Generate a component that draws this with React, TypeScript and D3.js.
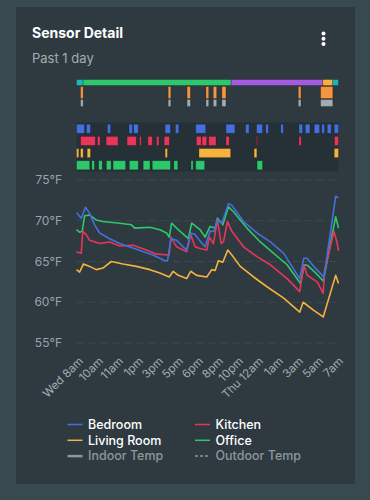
import React from 'react'
import * as d3 from 'd3'

// room temperatures, [hours since start, °F]
const bedroom: [number, number][] = [
  [0, 71.0], [0.43, 70.3], [0.83, 71.65], [1.2, 70.9], [1.66, 69.5], [2.12, 68.5], [3.04, 67.8],
  [3.96, 67.2], [5.49, 66.5], [7.0, 65.8], [8.1, 65.1], [8.34, 65.1], [8.65, 67.8], [9.17, 67.6],
  [10.09, 66.4], [10.46, 68.5], [10.86, 68.3], [11.32, 67.5], [11.78, 66.8], [12.24, 68.7],
  [12.6, 68.7], [12.91, 70.1], [13.31, 69.7], [13.92, 72.1], [14.23, 71.9], [15.3, 69.9],
  [16.53, 68.5], [17.76, 67.4], [18.98, 66.0], [20.45, 62.9], [20.82, 65.4], [21.13, 65.4],
  [21.74, 64.4], [22.51, 63.3], [22.66, 63.0], [23.74, 73.0], [24, 72.8],
]
const kitchen: [number, number][] = [
  [0, 66.2], [0.43, 66.0], [0.58, 68.7], [0.89, 68.3], [1.2, 67.6], [2.12, 67.2], [3.04, 67.4],
  [3.96, 66.9], [5.18, 67.0], [6.41, 66.4], [7.33, 65.9], [8.49, 65.8], [8.65, 68.0], [9.17, 66.8],
  [10.09, 66.2], [10.46, 68.3], [10.86, 66.8], [11.32, 66.6], [11.93, 66.4], [12.17, 68.0],
  [12.54, 67.2], [12.91, 70.1], [13.25, 67.2], [13.46, 67.4], [13.83, 69.9], [14.23, 68.7],
  [15.3, 66.8], [16.53, 65.6], [17.76, 64.6], [19.29, 62.9], [20.45, 61.3], [20.82, 64.6],
  [21.13, 63.3], [22.05, 62.5], [22.6, 61.1], [22.72, 63.8], [23.58, 68.7], [23.89, 67.2], [24, 66.3],
]
const livingRoom: [number, number][] = [
  [0, 64.0], [0.28, 63.7], [0.64, 64.7], [1.2, 64.4], [1.81, 64.0], [2.42, 64.2], [3.19, 65.0],
  [4.26, 64.7], [5.49, 64.4], [6.72, 64.0], [7.64, 63.6], [8.49, 63.1], [8.86, 63.8], [9.32, 63.3],
  [10.09, 62.9], [10.46, 63.8], [11.01, 63.3], [11.93, 63.1], [12.39, 64.0], [12.7, 63.9],
  [13.0, 65.1], [13.4, 64.9], [13.86, 66.4], [14.23, 65.8], [15.0, 64.4], [16.22, 63.1],
  [17.45, 61.9], [18.98, 60.5], [20.45, 58.8], [20.76, 60.0], [21.74, 59.0], [22.6, 58.2],
  [23.74, 63.3], [24, 62.3],
]
const office: [number, number][] = [
  [0, 68.9], [0.28, 68.6], [0.52, 68.7], [0.74, 70.6], [1.2, 70.7], [1.81, 70.1], [2.42, 69.9],
  [3.96, 69.7], [5.03, 69.5], [5.34, 69.1], [6.72, 69.2], [7.64, 68.9], [8.25, 68.5], [8.49, 68.0],
  [8.71, 69.7], [9.17, 69.1], [10.24, 67.8], [10.55, 69.7], [11.32, 68.9], [11.78, 68.0],
  [12.24, 69.3], [12.7, 69.1], [12.91, 70.3], [13.4, 69.5], [13.92, 71.7], [14.38, 71.1],
  [15.61, 69.1], [16.84, 67.4], [18.06, 66.0], [19.29, 64.6], [20.52, 62.3], [20.88, 64.6],
  [21.19, 64.5], [21.9, 63.6], [22.6, 62.6], [23.74, 70.5], [24, 69.1],
]

const tickLabels = ['Wed 8am', '10am', '11am', '1pm', '3pm', '5pm', '6pm', '8pm', '10pm', 'Thu 12am', '1am', '3am', '5am', '7am']
const yTicks = [55, 60, 65, 70, 75]

// thermostat mode timeline [start, end, state]
const modeSegments: [number, number, string][] = [
  [0, 0.6, 'fan'], [0.6, 14.17, 'home'], [14.17, 22.56, 'sleep'], [22.56, 23.48, 'away'], [23.48, 24, 'fan'],
]
const heatingOn: [number, number][] = [
  [0.37, 0.61], [8.4, 8.64], [10.13, 10.43], [11.86, 12.11], [12.53, 12.84], [13.32, 13.69], [20.32, 20.56], [22.36, 23.48],
]
const fanOn: [number, number][] = [
  [0.37, 0.61], [8.4, 8.64], [10.13, 10.43], [11.86, 12.11], [12.53, 12.84], [13.32, 13.69], [20.32, 20.56], [22.36, 23.48],
]

// occupancy per room
const bedroomMotion: [number, number][] = [
  [0, 0.73], [0.91, 1.28], [2.83, 3.13], [4.81, 5.11], [5.23, 5.66], [8.12, 8.6], [9.06, 9.37], [10.92, 11.84],
  [13.69, 14.51], [15.49, 15.81], [16.49, 17.04], [17.34, 17.58], [18.71, 18.95], [20.38, 20.71], [20.96, 21.38],
  [21.78, 22.27], [22.47, 22.72], [22.97, 23.33], [23.61, 24],
]
const kitchenMotion: [number, number][] = [
  [0.37, 1.73], [1.92, 2.16], [2.71, 3.81], [4.63, 5.48], [5.78, 5.93], [6.54, 6.94], [7.33, 7.55], [8.03, 8.51],
  [10.98, 11.43], [11.5, 11.93], [12.11, 12.78], [13.69, 13.99], [16.49, 16.58], [20.38, 20.59], [23.63, 24],
]
const livingMotion: [number, number][] = [
  [0, 0.21], [0.37, 0.61], [0.98, 1.28], [8.12, 8.33], [11.22, 14.12], [16.27, 16.52], [23.61, 24],
]
const officeMotion: [number, number][] = [
  [0, 1.21], [1.4, 1.64], [2.03, 2.35], [2.74, 3.17], [3.35, 4.5], [4.84, 5.66], [6.11, 6.73], [6.94, 8.6],
  [8.92, 9.28], [10.49, 10.68], [10.92, 11.74], [16.54, 17.04],
]

const BLUE = '#4470dc'
const RED = '#e8365a'
const YELLOW = '#f6b23f'
const GREEN = '#2ec76c'
const modeColors: Record<string, string> = { fan: '#1fb5b5', home: '#2ec76c', sleep: '#a35be0', away: '#f6b23f' }

const series = [
  { name: 'Office', data: office, color: GREEN },
  { name: 'Living Room', data: livingRoom, color: YELLOW },
  { name: 'Kitchen', data: kitchen, color: RED },
  { name: 'Bedroom', data: bedroom, color: BLUE },
]
const motionRows = [
  { name: 'Bedroom', data: bedroomMotion, color: BLUE },
  { name: 'Kitchen', data: kitchenMotion, color: RED },
  { name: 'Living Room', data: livingMotion, color: YELLOW },
  { name: 'Office', data: officeMotion, color: GREEN },
]
const legendItems = [
  { name: 'Bedroom', color: BLUE }, { name: 'Kitchen', color: RED },
  { name: 'Living Room', color: YELLOW }, { name: 'Office', color: GREEN },
  { name: 'Indoor Temp', color: '#8d979c', muted: true }, { name: 'Outdoor Temp', color: '#8d979c', muted: true, dashed: true },
]

const FONT = 'Inter, "Open Sans", sans-serif'

export default function App() {
  const x = d3.scaleLinear().domain([0, 24]).range([76.5, 338.5])
  const y = d3.scaleLinear().domain([55, 75]).range([343, 180])
  const tickX = d3.scalePoint<string>().domain(tickLabels).range([81, 341])
  const rowY = d3.scaleBand<string>().domain(motionRows.map(r => r.name)).range([123, 171]).paddingInner(0.25).paddingOuter(0.1)
  const line = d3.line<[number, number]>().x(d => x(d[0])).y(d => y(d[1]))

  const barStroke = 'rgba(0,0,0,0.28)'

  return (
    <svg width={370} height={500} style={{ position: 'absolute', left: 0, top: 0 }} fontFamily={FONT}>
      <rect width={370} height={500} fill="#394950" />
      <rect x={16} y={7} width={339} height={477} fill="#2e3a40" />

      <text x={32} y={38} fill="#ffffff" fontSize={14} fontWeight={700}>Sensor Detail</text>
      <text x={32} y={63} fill="#a3acb1" fontSize={13} fontWeight={400}>Past 1 day</text>
      {[33.5, 38.8, 44.1].map(cy => <circle key={cy} cx={323.5} cy={cy} r={2} fill="#ffffff" />)}

      {/* thermostat timeline */}
      {modeSegments.map((s, i) => (
        <rect key={'m' + i} x={x(s[0])} y={79.5} width={x(s[1]) - x(s[0])} height={6} fill={modeColors[s[2]]} stroke={barStroke} strokeWidth={0.8} />
      ))}
      {heatingOn.map((s, i) => (
        <rect key={'h' + i} x={x(s[0])} y={86.5} width={x(s[1]) - x(s[0])} height={12} fill="#f5963f" stroke={barStroke} strokeWidth={0.8} />
      ))}
      {fanOn.map((s, i) => (
        <rect key={'f' + i} x={x(s[0])} y={99.5} width={x(s[1]) - x(s[0])} height={7} fill="#a3abb5" stroke={barStroke} strokeWidth={0.8} />
      ))}

      {/* occupancy timeline */}
      <rect x={x(0)} y={122.5} width={x(24) - x(0)} height={49} fill="#263137" />
      {motionRows.map(r => r.data.map((s, i) => (
        <rect key={r.name + i} x={x(s[0])} y={rowY(r.name)} width={x(s[1]) - x(s[0])} height={rowY.bandwidth()}
          fill={r.color} stroke={barStroke} strokeWidth={0.8} />
      )))}

      {/* grid + y axis */}
      {yTicks.map(t => (
        <g key={t}>
          <line x1={x(0)} x2={x(24)} y1={y(t)} y2={y(t)} stroke="#3c484e" strokeWidth={1} strokeDasharray="8 4" />
          <text x={62} y={y(t)} dy="0.35em" textAnchor="end" fill="#9aa3a8" fontSize={12}>{t}°F</text>
        </g>
      ))}

      {/* x axis labels */}
      {tickLabels.map(l => (
        <text key={l} transform={`translate(${tickX(l)},359) rotate(-45)`} textAnchor="end" dy="0.35em" fill="#a3abb0" fontSize={11.5}>{l}</text>
      ))}

      {/* lines */}
      {series.map(s => (
        <path key={s.name} d={line(s.data) ?? ''} fill="none" stroke={s.color} strokeWidth={1.6} strokeLinejoin="round" />
      ))}

      {/* legend */}
      {legendItems.map((it, i) => {
        const col = i % 2, row = Math.floor(i / 2)
        const lx = col === 0 ? 67.5 : 195
        const ly = 424.5 + row * 15.8
        return (
          <g key={it.name}>
            <line x1={lx} x2={lx + 15} y1={ly} y2={ly} stroke={it.color} strokeWidth={it.muted && !it.dashed ? 2.5 : 1.5}
              strokeDasharray={it.dashed ? '3 2' : undefined} />
            <text x={lx + 20.5} y={ly} dy="0.35em" fill={it.muted ? '#8d979c' : '#ffffff'} fontSize={12.5} fontWeight={500}>{it.name}</text>
          </g>
        )
      })}
    </svg>
  )
}
